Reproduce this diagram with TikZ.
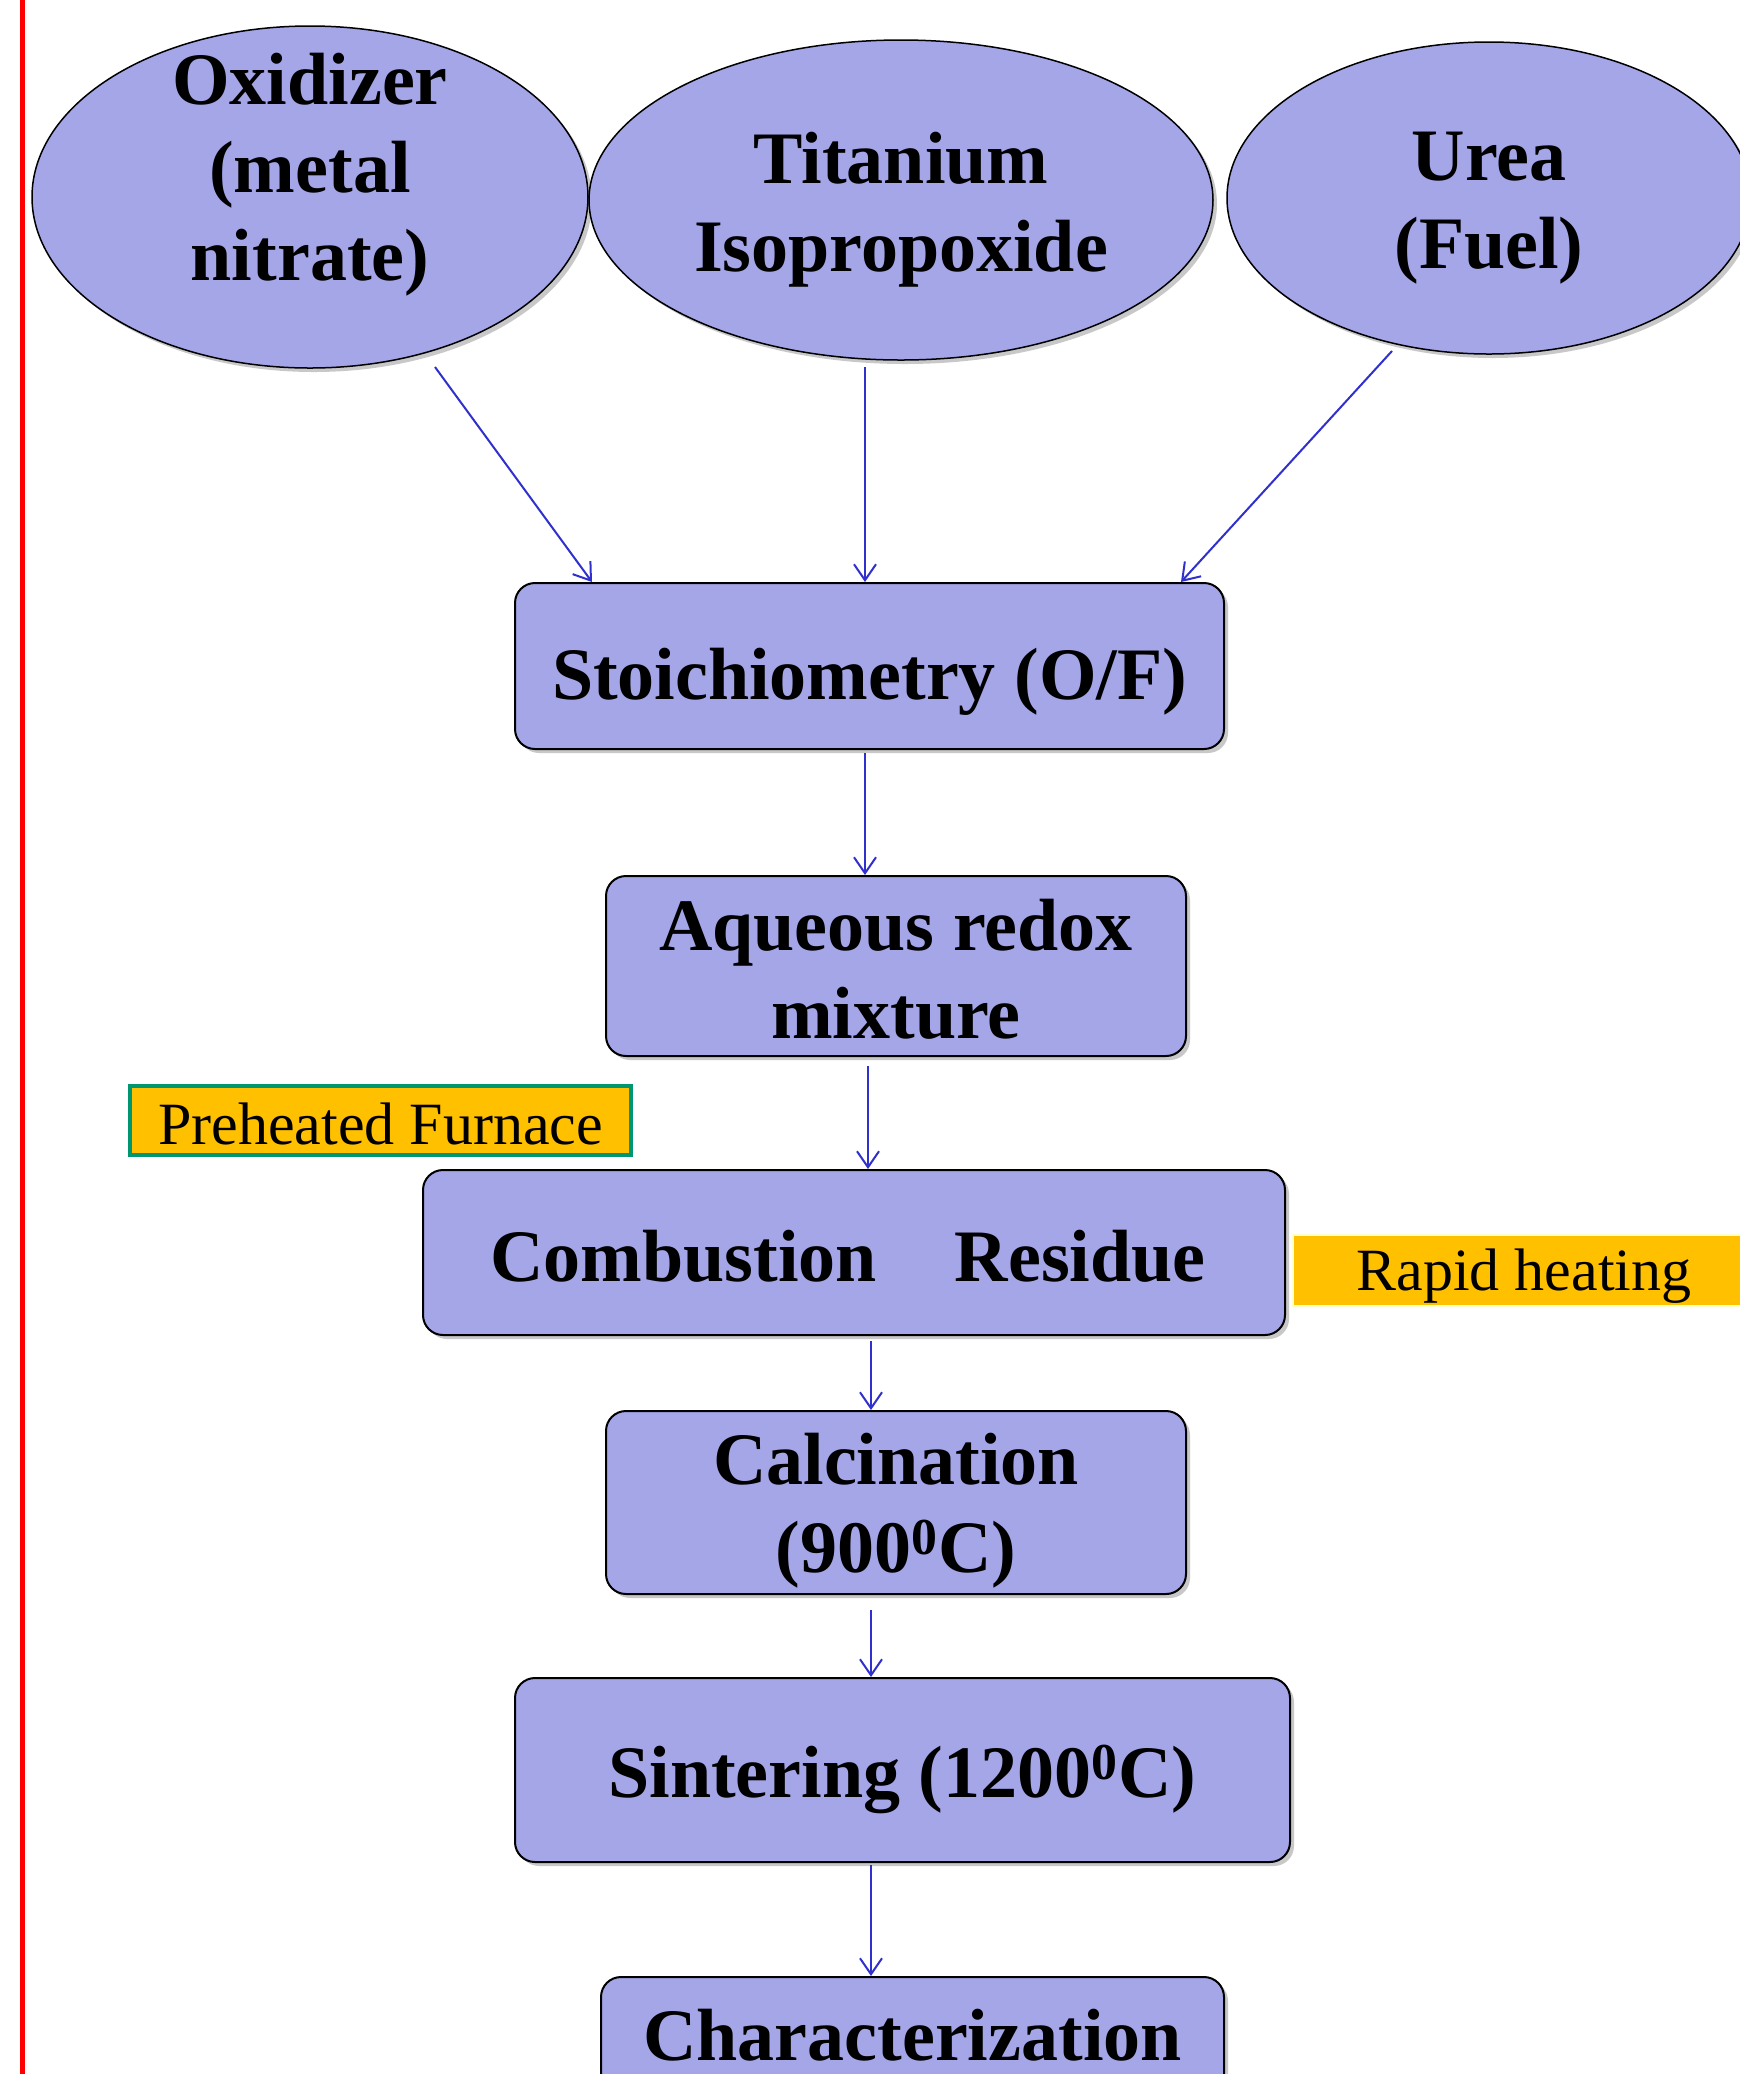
\documentclass[tikz,border=0pt]{standalone}
\usepackage{fontspec}
\setmainfont{Liberation Serif}
\usetikzlibrary{shapes.geometric,arrows.meta,shadows}
\definecolor{lav}{RGB}{164,166,232}
\definecolor{arrblue}{RGB}{48,48,205}
\definecolor{tagorange}{RGB}{255,192,0}
\definecolor{taggreen}{RGB}{0,150,112}
\definecolor{tagpale}{RGB}{255,255,204}
\tikzset{
  bigtxt/.style={font=\fontsize{37}{44}\selectfont\bfseries, align=center, text=black, inner sep=0pt},
  shad/.style={drop shadow={shadow xshift=2pt,shadow yshift=-2pt,opacity=0.3,fill=black!70}},
  ell/.style={ellipse, draw=black, line width=0.75pt, fill=lav, inner sep=0pt, shad},
  stepbox/.style={rectangle, rounded corners=10pt, draw=black, line width=1pt, fill=lav, inner sep=0pt, shad},
  tag/.style={rectangle, inner sep=0pt, font=\fontsize{30}{36}\selectfont, text=black},
  arr/.style={draw=arrblue, line width=1pt, -{Straight Barb[length=8pt,width=11pt,line width=1pt]}}
}
\begin{document}
\begin{tikzpicture}[x=0.5pt,y=-0.5pt]
\useasboundingbox (0,0) rectangle (1740,2074);
\clip (0,0) rectangle (1740,2074);
\fill[white] (0,0) rectangle (1740,2074);
% red margin line
\draw[red, line width=2.5pt] (22,-10) -- (22,2090);
% ellipses
\node[ell, minimum width=278pt, minimum height=171pt,
  label={[bigtxt,yshift=11pt]center:{Oxidizer\\(metal\\nitrate)}}] (ox) at (310,197) {};
\node[ell, minimum width=312pt, minimum height=160pt,
  label={[bigtxt,yshift=-5pt]center:{Titanium\\Isopropoxide}}] (ti) at (901,200) {};
\node[ell, minimum width=262pt, minimum height=156pt,
  label={[bigtxt,yshift=-5pt]center:{Urea\\(Fuel)}}] (ur) at (1489,198) {};
% boxes
\node[stepbox, minimum width=354.5pt, minimum height=83pt,
  label={[bigtxt,yshift=-8pt]center:{Stoichiometry (O/F)}}] (st) at (869.5,666) {};
\node[stepbox, minimum width=290pt, minimum height=90pt,
  label={[bigtxt,yshift=-1.5pt]center:{Aqueous redox\\mixture}}] (aq) at (896,966) {};
\node[stepbox, minimum width=431pt, minimum height=82.5pt,
  label={[bigtxt,xshift=-3pt,yshift=-2pt]center:{Combustion\hspace{39pt}Residue}}] (co) at (854,1252.5) {};
\node[stepbox, minimum width=290pt, minimum height=91.5pt,
  label={[bigtxt,yshift=-4pt]center:{Calcination\\(900\textsuperscript{0}C)}}] (ca) at (896,1502.5) {};
\node[stepbox, minimum width=387.5pt, minimum height=92pt,
  label={[bigtxt,yshift=-4.5pt]center:{Sintering (1200\textsuperscript{0}C)}}] (si) at (902.5,1770) {};
\node[stepbox, minimum width=311.5pt, minimum height=62pt,
  label={[bigtxt,yshift=2pt]center:{Characterization}}] (ch) at (912.5,2039) {};
% tags
\node[tag, draw=taggreen, line width=2.3pt, fill=tagorange, minimum width=250.5pt, minimum height=34.5pt,
  label={[tag,yshift=-1.5pt]center:{Preheated Furnace}}] (pf) at (380.5,1120.5) {};
\node[tag, draw=tagpale, line width=1pt, fill=tagorange, minimum width=231pt, minimum height=35.5pt,
  label={[tag,yshift=-3pt]center:{Rapid heating}}] (rh) at (1524,1270.5) {};
% arrow start points
\coordinate (a1s) at (435,367);
\coordinate (a2s) at (865,367);
\coordinate (a3s) at (1392,351);
% arrows
\draw[arr] (a1s) -- ([xshift=39pt]st.north west);
\draw[arr] (a2s) -- ([xshift=-2.25pt]st.north);
\draw[arr] (a3s) -- ([xshift=-22pt]st.north east);
\draw[arr] ([xshift=-2.25pt,yshift=-1.5pt]st.south) -- ([xshift=-2.25pt]st.south |- aq.north);
\draw[arr] ([xshift=-14pt,yshift=-4.5pt]aq.south) -- ([xshift=-14pt]aq.south |- co.north);
\draw[arr] ([xshift=8.5pt,yshift=-2.5pt]co.south) -- ([xshift=8.5pt]co.south |- ca.north);
\draw[arr] ([xshift=-12.5pt,yshift=-7.5pt]ca.south) -- ([xshift=-12.5pt]ca.south |- si.north);
\draw[arr] ([xshift=-15.75pt,yshift=-1pt]si.south) -- ([xshift=-15.75pt]si.south |- ch.north);
\end{tikzpicture}
\end{document}
